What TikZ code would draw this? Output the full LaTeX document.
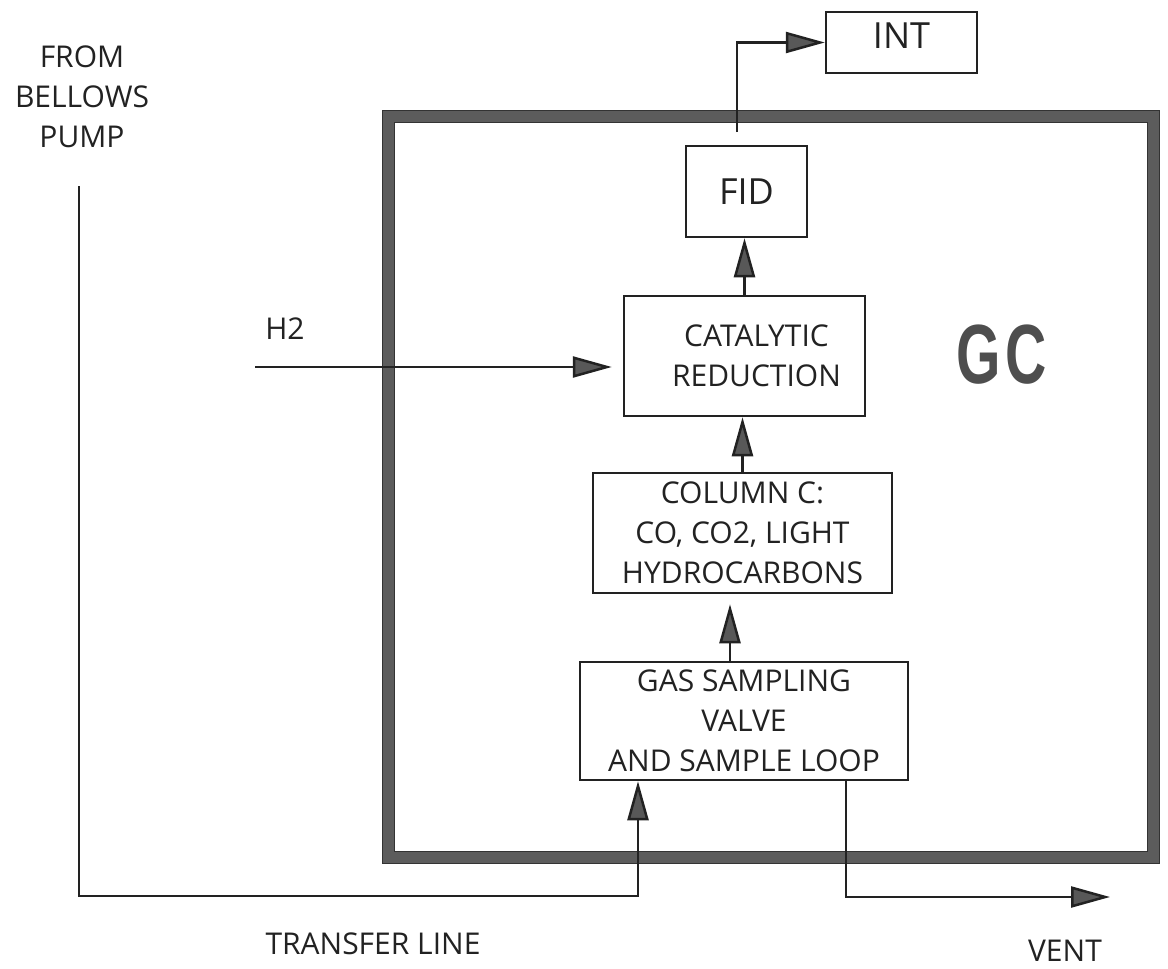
\documentclass[tikz,border=0pt]{standalone}
\usepackage{graphicx}
\usepackage{fontspec}
\setmainfont{Open Sans}
\newfontfamily\gcfont{Liberation Sans}
\usetikzlibrary{arrows.meta}
\definecolor{ink}{HTML}{222222}
\definecolor{band}{HTML}{5C5C5C}
\definecolor{bandedge}{HTML}{333333}
\definecolor{headfill}{HTML}{585858}
\tikzset{
  box/.style={draw=ink, line width=2.5pt, inner sep=0pt, align=center, text=ink,
              font=\fontsize{30}{40}\selectfont},
  lbl/.style={inner sep=0pt, align=center, text=ink, font=\fontsize{30}{40}\selectfont},
  conn/.style={draw=ink, line width=2.5pt},
  arr/.style={conn, -{Triangle[length=39pt,width=21pt,fill=headfill]}},
  gcframe/.style={draw=bandedge, line width=1pt, double=band, double distance=11pt, inner sep=0pt},
}
\begin{document}
\begin{tikzpicture}[x=1pt,y=-1pt]
\useasboundingbox (0,0) rectangle (1168,969);

% GC oven frame
\node[gcframe, minimum width=764.5pt, minimum height=740.5pt] (gc) at (770.75,486.75) {};
\node[inner sep=0pt, text=band!85!black] (gctext) at (1001.5,355)
  {\gcfont\bfseries\fontsize{84}{84}\selectfont\scalebox{0.68}[1]{G}\hspace{5pt}\scalebox{0.68}[1]{C}};

% boxes
\node[box, minimum width=151pt, minimum height=61pt] (int) at (901.5,42.5) {};
\node[lbl, font=\fontsize{36}{40}\selectfont] (inttext) at ([yshift=7pt]int.center) {INT};
\node[box, minimum width=121pt, minimum height=91pt, font=\fontsize{36}{40}\selectfont] (fid) at (746.5,191.5) {FID};
\node[box, minimum width=241pt, minimum height=120pt] (cat) at (744.5,356) {};
\node[lbl] (cattext) at ([xshift=12pt]cat.center) {CATALYTIC\\REDUCTION};
\node[box, minimum width=299pt, minimum height=120pt] (col) at (742.5,533) {COLUMN C:\\CO, CO2, LIGHT\\HYDROCARBONS};
\node[box, minimum width=328pt, minimum height=118pt] (gas) at (744,721) {GAS SAMPLING\\VALVE\\AND SAMPLE LOOP};

% free labels
\node[lbl] (bellows) at (82,97) {FROM\\BELLOWS\\PUMP};
\node[lbl] (h2) at (285,328.5) {H2};
\node[lbl] (transfer) at (373,944) {TRANSFER LINE};
\node[lbl] (ventlbl) at (1065,951) {VENT};

% free line ends
\coordinate (bp) at (79,186);
\coordinate (tl) at (79,896);
\coordinate (h2s) at (255,367);
\coordinate (vent) at (1110,897);
\coordinate (fidout) at (737,132);

% connectors
\draw[arr] (fidout) |- (int.west);
\draw[arr] (cat.north) -- (cat.north |- fid.south);
\draw[arr] (col.north) -- (col.north |- cat.south);
\draw[arr, shorten >=10pt] ([xshift=-14pt]gas.north) -- ([xshift=-12.5pt]col.south);
\draw[arr, shorten >=11pt] (h2s) -- (cat.west |- h2s);
\draw[arr] (bp) -- (tl) -| ([xshift=-106pt]gas.south);
\draw[arr] ([xshift=102pt]gas.south) |- (vent);
\end{tikzpicture}
\end{document}
